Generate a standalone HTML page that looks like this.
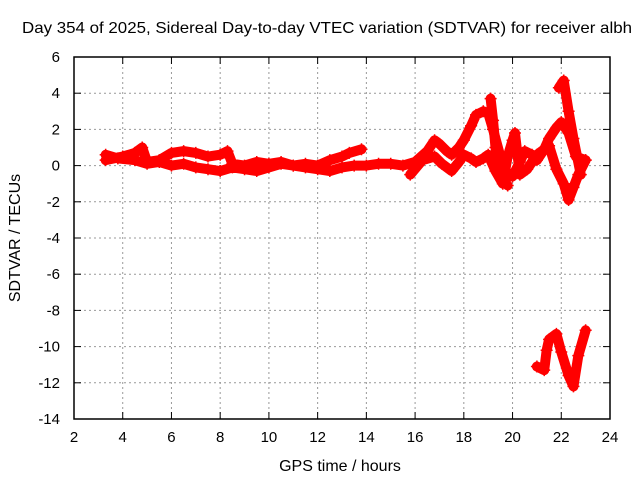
<!DOCTYPE html>
<html><head><meta charset="utf-8"><style>
body{margin:0;background:#fff}
svg text{font-family:"Liberation Sans",sans-serif;font-size:15px;fill:#000}
</style></head><body>
<svg id="chart" width="640" height="480">
<text x="327" y="33" text-anchor="middle" style="font-size:16px" textLength="610" lengthAdjust="spacingAndGlyphs">Day 354 of 2025, Sidereal Day-to-day VTEC variation (SDTVAR) for receiver albh</text>
<text x="340" y="471" text-anchor="middle" style="font-size:16px">GPS time / hours</text>
<text transform="translate(20,238) rotate(-90)" text-anchor="middle" style="font-size:16px">SDTVAR / TECUs</text>
<g id="grid"></g><g id="axes"></g><g id="data"></g>
<rect x="74" y="57" width="536" height="362" fill="none" stroke="#000" stroke-width="1.5"/>
</svg>
<script>
const xTicks=[2,4,6,8,10,12,14,16,18,20,22,24];
const yTicks=[6,4,2,0,-2,-4,-6,-8,-10,-12,-14];
const series1=[[3.3,0.6],[3.8,0.4],[4.5,0.3],[5,0.1],[5.5,0.2],[6,0],[6.5,0.1],[7,-0.1],[7.5,-0.2],[8,-0.3],[8.5,-0.1],[9,-0.2],[9.5,-0.3],[10,-0.1],[10.5,0.1],[11,0],[11.5,-0.1],[12,-0.2],[12.5,-0.3],[13,-0.1],[13.5,0],[14,0],[14.5,0.1],[15,0.1],[15.5,0],[16,0.2],[16.5,0.8],[16.8,1.4],[17,1.2],[17.3,0.8],[17.5,0.6],[17.8,1.0],[18,1.4],[18.3,2.2],[18.5,2.8],[18.8,3.0],[19,2.9],[19.2,2.0],[19.5,0.5],[19.8,-0.5],[20,-0.6],[20.3,0.2],[20.5,0.8],[20.8,0.6],[21,0.3],[21.3,0.9],[21.5,1.5],[21.8,2.1],[22,2.4],[22.3,1.8],[22.6,0.5],[23,0.3]];
const series2=[[3.3,0.3],[4,0.5],[4.5,0.7],[4.8,1.0],[5,0.2],[5.5,0.3],[6,0.7],[6.5,0.8],[7,0.7],[7.5,0.5],[8,0.6],[8.3,0.8],[8.5,0.1],[9,0],[9.5,0.2],[10,0.1],[10.5,0.2],[11,0],[11.5,0.1],[12,0],[12.5,0.3],[13,0.5],[13.3,0.7],[13.8,0.9]];
const series3=[[15.8,-0.5],[16.3,0.3],[16.8,0.5],[17.1,0.1],[17.5,-0.3],[17.8,0.2],[18,0.6],[18.3,0.4],[18.5,0.2],[18.8,0.4],[19,0.6],[19.3,-0.3],[19.6,-1.0],[19.8,0.5],[20,1.4],[20.1,1.8],[20.3,-0.5],[20.6,-0.2],[21,0.6],[21.3,0.9],[21.5,1.1],[21.8,-0.2],[22.1,-1.0],[22.3,-1.9],[22.5,-1.2],[22.7,-0.5],[23,0.3]];
const series4=[[19.1,3.7],[19.2,2.5],[19.3,1],[19.5,-0.5],[19.8,-1.1]];
const series5=[[21.9,4.3],[22.1,4.7],[22.3,3],[22.5,1.5],[22.8,-0.5]];
const series6=[[21,-11.1],[21.3,-11.3],[21.4,-10.2],[21.5,-9.6],[21.8,-9.3],[22,-10.3],[22.3,-11.6],[22.5,-12.2],[22.7,-10.5],[23,-9.1]];
const NS="http://www.w3.org/2000/svg";
const X=v=>74+(v-2)*536/22, Y=v=>57+(6-v)*362/20;
const grid=document.getElementById('grid'),axes=document.getElementById('axes'),data=document.getElementById('data');
function mk(t,a,p){const e=document.createElementNS(NS,t);for(const k in a)e.setAttribute(k,a[k]);p.appendChild(e);return e;}
xTicks.forEach(t=>{const x=X(t);
 if(t>2&&t<24){const g=mk('line',{x1:x,x2:x,y1:57,y2:419,stroke:'#999','stroke-dasharray':'2,3'},grid);
 
 }
 mk('line',{x1:x,x2:x,y1:419,y2:412,stroke:'#000'},axes);mk('line',{x1:x,x2:x,y1:57,y2:64,stroke:'#000'},axes);
 const l=mk('text',{x:x,y:442,'text-anchor':'middle'},axes);l.textContent=t;
 
 });
yTicks.forEach(t=>{const y=Y(t);
 if(t<6&&t>-14){const g=mk('line',{x1:74,x2:610,y1:y,y2:y,stroke:'#999','stroke-dasharray':'2,3'},grid);
 
 }
 mk('line',{x1:74,x2:81,y1:y,y2:y,stroke:'#000'},axes);mk('line',{x1:610,x2:603,y1:y,y2:y,stroke:'#000'},axes);
 const l=mk('text',{x:60,y:y+5,'text-anchor':'end'},axes);l.textContent=t;
 
 });
[series1,series2,series3,series4,series5,series6].forEach((s,i)=>{
 const p=mk('polyline',{points:s.map(d=>X(d[0])+','+Y(d[1])).join(' '),fill:'none',stroke:'#f00','stroke-width':10,'stroke-linejoin':'round','stroke-linecap':'round'},data);
 
 
 s.forEach(d=>{const x=X(d[0]),y=Y(d[1]);
  const m=mk('path',{d:`M${x-6},${y}h12M${x},${y-6}v12`,stroke:'#f00','stroke-width':1.5},data);
  
  });
});
</script>
</body></html>
